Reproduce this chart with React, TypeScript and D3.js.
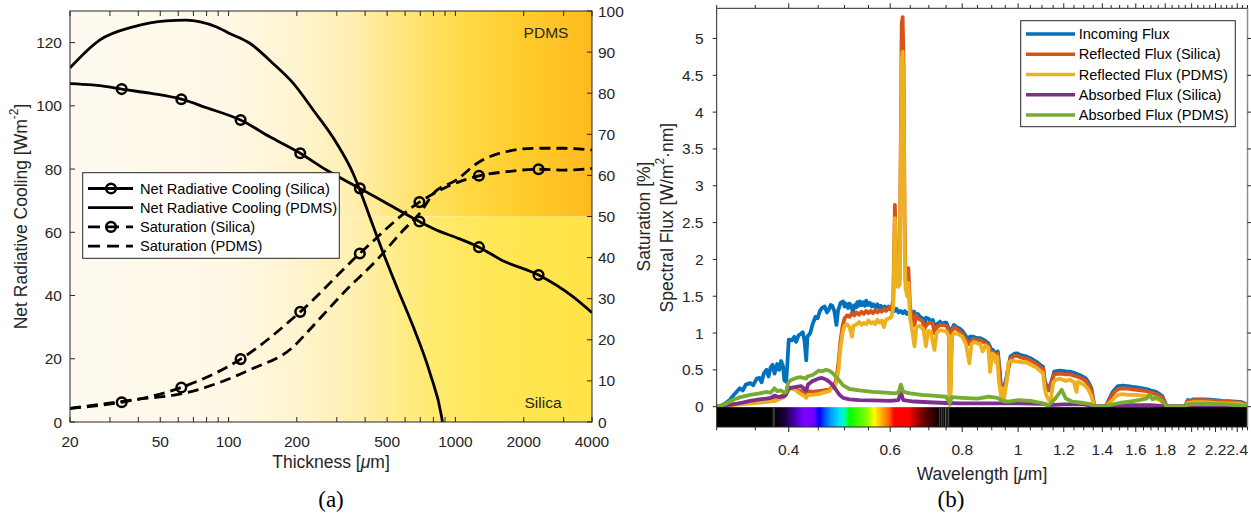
import React from 'react';
import * as d3 from 'd3';

const FONT = '"Liberation Sans", Arial, Helvetica, sans-serif';
const SERIF = '"Liberation Serif", "Times New Roman", serif';
const AXC = '#262626';

// ---------------- Panel (a) data ----------------
const thicknessTicks = [20, 50, 100, 200, 500, 1000, 2000, 4000];
const thicknessTickLabels = ['20', '50', '100', '200', '500', '1000', '2000', '4000'];
const thicknessMinor = [30, 40, 60, 70, 80, 90, 300, 400, 600, 700, 800, 900, 3000];
const coolingTicks = [0, 20, 40, 60, 80, 100, 120];
const saturationTicks = [0, 10, 20, 30, 40, 50, 60, 70, 80, 90, 100];

const nrcSilica: [number, number][] = [
  [20, 107], [25, 106.6], [29, 106.1], [33.8, 105.3], [45, 104], [61.9, 102.1], [80, 99.4],
  [113, 95.5], [152, 90.2], [207, 85], [270, 79.7], [379, 73.9], [497, 69.2], [694, 63.4],
  [852, 60.3], [1012, 58.3], [1270, 55.3], [1600, 51.2], [2325, 46.5], [3305, 39.6], [4000, 34.6],
];
const nrcSilicaMarks: [number, number][] = [
  [33.8, 105.3], [61.9, 102.1], [113, 95.5], [207, 85], [379, 73.9], [694, 63.4], [1270, 55.3], [2325, 46.5],
];
const nrcPdms: [number, number][] = [
  [20, 112], [27, 120.8], [38, 125], [53, 126.9], [65, 127.1], [88, 125], [101, 122.9],
  [124, 119.8], [157, 113.4], [193, 107.1], [236, 98.7], [300, 88.1], [354, 78.6], [379, 73.4],
  [419, 64.9], [481, 53.4], [551, 42.8], [652, 30.1], [773, 15.4], [869, 1.7], [885, -2],
];
const satSilica: [number, number][] = [
  [20, 3.3], [33.8, 4.8], [61.9, 8.4], [113, 15.3], [207, 26.8], [379, 41.0], [694, 53.5],
  [855, 56.4], [1045, 58.5], [1270, 59.9], [1680, 60.9], [2325, 61.5], [3000, 61.3], [4000, 61.7],
];
const satSilicaMarks: [number, number][] = [
  [33.8, 4.8], [61.9, 8.4], [113, 15.3], [207, 26.8], [379, 41.0], [694, 53.5], [1270, 59.9], [2325, 61.5],
];
const satPdms: [number, number][] = [
  [20, 3.3], [38, 5.4], [65, 7.1], [124, 12.7], [193, 18.3], [227, 22.4], [330, 32.1], [450, 39.4],
  [590, 46.7], [697, 50.8], [800, 55.6], [1012, 58.9], [1243, 62.9], [1680, 65.8], [2270, 66.6],
  [3000, 66.6], [4000, 66.2],
];
const legendA = ['Net Radiative Cooling (Silica)', 'Net Radiative Cooling (PDMS)', 'Saturation (Silica)', 'Saturation (PDMS)'];

const bgTopStops: [number, string][] = [
  [20, '#fffaf0'], [100, '#fff8e6'], [200, '#fff4d0'], [350, '#ffefb2'], [500, '#ffe88a'],
  [800, '#ffe05e'], [1200, '#ffd842'], [2000, '#ffcc2c'], [3000, '#ffc224'], [4000, '#ffb91f'],
];
const bgBottomStops: [number, string][] = [
  [20, '#fffaf0'], [100, '#fff8e6'], [200, '#fff4d0'], [350, '#fff0b2'], [500, '#ffed92'],
  [800, '#ffea6e'], [1200, '#ffe85c'], [2000, '#ffe650'], [4000, '#ffe246'],
];

// ---------------- Panel (b) data ----------------
const wavelengthTicks = [0.4, 0.6, 0.8, 1, 1.2, 1.4, 1.6, 1.8, 2, 2.2, 2.4];
const wavelengthTickLabels = ['0.4', '0.6', '0.8', '1', '1.2', '1.4', '1.6', '1.8', '2', '2.2', '2.4'];
const fluxTicks = [0, 0.5, 1, 1.5, 2, 2.5, 3, 3.5, 4, 4.5, 5];
const fluxTickLabels = ['0', '0.5', '1', '1.5', '2', '2.5', '3', '3.5', '4', '4.5', '5'];

const incomingFlux: [number, number][] = [
  [0.300, 0.00], [0.305, 0.01], [0.310, 0.04], [0.316, 0.09], [0.322, 0.17], [0.329, 0.25], [0.333, 0.22],
  [0.337, 0.30], [0.343, 0.32], [0.347, 0.29], [0.352, 0.38], [0.356, 0.39], [0.359, 0.33], [0.362, 0.45],
  [0.366, 0.50], [0.369, 0.41], [0.372, 0.53], [0.375, 0.57], [0.378, 0.45], [0.382, 0.58], [0.385, 0.50],
  [0.388, 0.62], [0.391, 0.55], [0.393, 0.36], [0.396, 0.34], [0.398, 0.60], [0.400, 0.91], [0.405, 0.90],
  [0.409, 0.95], [0.412, 0.88], [0.416, 0.97], [0.420, 0.99], [0.423, 1.01], [0.426, 0.90], [0.429, 0.63],
  [0.431, 0.95], [0.436, 1.00], [0.440, 1.12], [0.445, 1.22], [0.449, 1.20], [0.453, 1.30], [0.457, 1.34],
  [0.462, 1.36], [0.466, 1.28], [0.469, 1.31], [0.473, 1.38], [0.476, 1.37], [0.480, 1.30], [0.484, 1.11],
  [0.487, 1.30], [0.492, 1.41], [0.497, 1.43], [0.500, 1.36], [0.503, 1.40], [0.507, 1.34], [0.510, 1.40],
  [0.514, 1.36], [0.517, 1.28], [0.520, 1.38], [0.524, 1.35], [0.526, 1.42], [0.529, 1.37], [0.531, 1.43],
  [0.535, 1.38], [0.538, 1.42], [0.542, 1.37], [0.545, 1.44], [0.549, 1.38], [0.553, 1.41], [0.557, 1.36],
  [0.561, 1.39], [0.566, 1.35], [0.570, 1.39], [0.574, 1.34], [0.578, 1.37], [0.583, 1.33], [0.587, 1.36],
  [0.590, 1.31], [0.596, 1.36], [0.601, 1.32], [0.606, 1.34], [0.611, 1.30], [0.615, 1.33], [0.620, 1.28],
  [0.626, 1.30], [0.631, 1.27], [0.636, 1.30], [0.641, 1.26], [0.647, 1.28], [0.656, 1.22], [0.660, 1.29],
  [0.665, 1.24], [0.670, 1.26], [0.676, 1.22], [0.683, 1.20], [0.687, 1.10], [0.692, 1.21], [0.700, 1.19],
  [0.705, 1.15], [0.711, 1.18], [0.718, 1.07], [0.723, 1.12], [0.732, 1.155], [0.738, 1.12], [0.745, 1.14],
  [0.751, 1.14], [0.759, 1.05], [0.761, 0.15], [0.764, 0.40], [0.767, 1.05], [0.774, 1.11], [0.782, 1.08],
  [0.790, 1.065], [0.800, 1.03], [0.810, 0.97], [0.820, 0.90], [0.825, 0.95], [0.836, 0.95], [0.850, 0.93],
  [0.860, 0.93], [0.875, 0.90], [0.888, 0.86], [0.898, 0.78], [0.905, 0.77], [0.915, 0.70], [0.922, 0.75],
  [0.930, 0.45], [0.935, 0.20], [0.945, 0.25], [0.955, 0.40], [0.962, 0.55], [0.970, 0.68], [0.985, 0.72],
  [0.995, 0.725], [1.010, 0.70], [1.035, 0.68], [1.055, 0.65], [1.076, 0.61], [1.095, 0.56], [1.105, 0.54],
  [1.112, 0.36], [1.120, 0.28], [1.130, 0.25], [1.140, 0.32], [1.150, 0.42], [1.155, 0.475], [1.180, 0.49],
  [1.210, 0.48], [1.230, 0.475], [1.250, 0.46], [1.277, 0.43], [1.300, 0.40], [1.310, 0.385], [1.325, 0.33],
  [1.340, 0.25], [1.350, 0.10], [1.355, 0.00], [1.420, 0.00], [1.440, 0.11], [1.460, 0.20], [1.470, 0.23],
  [1.490, 0.28], [1.520, 0.285], [1.550, 0.28], [1.580, 0.27], [1.620, 0.26], [1.670, 0.24], [1.700, 0.22],
  [1.735, 0.20], [1.760, 0.17], [1.780, 0.14], [1.800, 0.05], [1.810, 0.00], [1.950, 0.00], [1.960, 0.05],
  [1.970, 0.09], [1.990, 0.08], [2.010, 0.10], [2.050, 0.10], [2.100, 0.10], [2.150, 0.095], [2.200, 0.09],
  [2.260, 0.08], [2.320, 0.075], [2.380, 0.07], [2.430, 0.065], [2.470, 0.045], [2.500, 0.02],
];

const reflectedSilica: [number, number][] = [
  [0.300, 0.00], [0.310, 0.015], [0.320, 0.03], [0.330, 0.045], [0.340, 0.055], [0.350, 0.065], [0.360, 0.08],
  [0.370, 0.09], [0.375, 0.11], [0.380, 0.10], [0.385, 0.13], [0.390, 0.15], [0.395, 0.17], [0.399, 0.22],
  [0.402, 0.26], [0.410, 0.25], [0.415, 0.22], [0.420, 0.21], [0.425, 0.20], [0.429, 0.17], [0.432, 0.21],
  [0.440, 0.20], [0.450, 0.21], [0.460, 0.22], [0.470, 0.23], [0.475, 0.26], [0.480, 0.30], [0.484, 0.38],
  [0.488, 0.60], [0.492, 0.90], [0.496, 1.10], [0.500, 1.20], [0.505, 1.24], [0.510, 1.22], [0.515, 1.27],
  [0.520, 1.24], [0.525, 1.28], [0.530, 1.25], [0.535, 1.29], [0.540, 1.26], [0.545, 1.30], [0.550, 1.27],
  [0.555, 1.30], [0.560, 1.27], [0.565, 1.31], [0.570, 1.28], [0.575, 1.31], [0.580, 1.29], [0.585, 1.33],
  [0.590, 1.30], [0.598, 1.35], [0.603, 1.33], [0.6073, 1.45], [0.6113, 2.74], [0.6144, 2.0], [0.6184, 1.63],
  [0.6227, 1.70], [0.6257, 3.5], [0.6281, 5.2], [0.6305, 5.29], [0.6330, 4.6], [0.6355, 2.5], [0.638, 1.7],
  [0.642, 1.6], [0.6451, 1.88], [0.6495, 1.35], [0.656, 1.20], [0.661, 1.10], [0.665, 1.24], [0.670, 1.20],
  [0.683, 1.16], [0.687, 1.05], [0.692, 1.10], [0.700, 1.14], [0.711, 1.13], [0.716, 1.0], [0.723, 1.08],
  [0.732, 1.11], [0.751, 1.10], [0.759, 1.02], [0.761, 0.10], [0.764, 0.35], [0.767, 1.02], [0.774, 1.08],
  [0.790, 1.03], [0.800, 0.99], [0.810, 0.93], [0.823, 0.85], [0.836, 0.92], [0.850, 0.90], [0.860, 0.90],
  [0.875, 0.87], [0.888, 0.83], [0.898, 0.74], [0.905, 0.74], [0.915, 0.67], [0.922, 0.72], [0.930, 0.42],
  [0.935, 0.18], [0.945, 0.22], [0.955, 0.37], [0.962, 0.52], [0.970, 0.65], [0.985, 0.69], [0.995, 0.69],
  [1.010, 0.67], [1.035, 0.65], [1.055, 0.62], [1.076, 0.58], [1.095, 0.53], [1.105, 0.51], [1.112, 0.33],
  [1.120, 0.25], [1.130, 0.22], [1.140, 0.29], [1.150, 0.39], [1.155, 0.44], [1.180, 0.45], [1.210, 0.44],
  [1.230, 0.44], [1.250, 0.42], [1.277, 0.40], [1.300, 0.37], [1.310, 0.35], [1.325, 0.30], [1.340, 0.22],
  [1.350, 0.08], [1.355, 0.00], [1.420, 0.00], [1.440, 0.09], [1.460, 0.17], [1.470, 0.20], [1.490, 0.24],
  [1.520, 0.25], [1.550, 0.245], [1.580, 0.235], [1.620, 0.225], [1.670, 0.21], [1.700, 0.19], [1.735, 0.17],
  [1.760, 0.145], [1.780, 0.12], [1.800, 0.04], [1.810, 0.00], [1.950, 0.00], [1.960, 0.04], [1.970, 0.08],
  [1.990, 0.07], [2.010, 0.09], [2.050, 0.09], [2.100, 0.09], [2.150, 0.085], [2.200, 0.08], [2.260, 0.07],
  [2.320, 0.065], [2.380, 0.06], [2.430, 0.055], [2.470, 0.04], [2.500, 0.015],
];

const reflectedPdms: [number, number][] = [
  [0.300, 0.00], [0.310, 0.01], [0.320, 0.02], [0.330, 0.03], [0.340, 0.04], [0.350, 0.05], [0.360, 0.06],
  [0.370, 0.07], [0.380, 0.08], [0.390, 0.12], [0.395, 0.15], [0.399, 0.22], [0.403, 0.25], [0.410, 0.23],
  [0.415, 0.20], [0.420, 0.17], [0.425, 0.15], [0.429, 0.12], [0.432, 0.16], [0.440, 0.16], [0.450, 0.17],
  [0.460, 0.19], [0.470, 0.21], [0.475, 0.25], [0.480, 0.27], [0.484, 0.33], [0.488, 0.50], [0.492, 0.80],
  [0.496, 1.00], [0.500, 1.10], [0.505, 1.12], [0.510, 1.08], [0.515, 0.95], [0.518, 1.10], [0.525, 1.12],
  [0.530, 1.15], [0.535, 1.11], [0.540, 1.14], [0.545, 1.12], [0.550, 1.17], [0.555, 1.13], [0.560, 1.15],
  [0.565, 1.12], [0.570, 1.18], [0.575, 1.14], [0.580, 1.17], [0.585, 1.08], [0.590, 1.18], [0.598, 1.20],
  [0.603, 1.22], [0.6073, 1.35], [0.6113, 2.56], [0.6144, 1.9], [0.6184, 1.63], [0.6227, 1.65], [0.6257, 3.2],
  [0.6281, 4.7], [0.6305, 4.82], [0.6330, 4.2], [0.6355, 2.2], [0.638, 1.6], [0.642, 1.5], [0.6451, 1.68],
  [0.6495, 1.2], [0.653, 1.10], [0.661, 0.82], [0.666, 1.08], [0.675, 1.10], [0.685, 1.05], [0.692, 0.82],
  [0.698, 1.03], [0.705, 1.02], [0.716, 0.77], [0.722, 1.0], [0.732, 1.04], [0.745, 1.03], [0.751, 1.02],
  [0.759, 0.95], [0.761, 0.02], [0.764, 0.20], [0.767, 0.95], [0.774, 1.0], [0.790, 0.98], [0.800, 0.95],
  [0.812, 0.85], [0.823, 0.59], [0.830, 0.85], [0.840, 0.88], [0.850, 0.86], [0.860, 0.85], [0.868, 0.75],
  [0.878, 0.83], [0.888, 0.80], [0.894, 0.47], [0.902, 0.72], [0.910, 0.70], [0.915, 0.60], [0.920, 0.68],
  [0.926, 0.35], [0.935, 0.12], [0.940, 0.25], [0.945, 0.10], [0.950, 0.22], [0.956, 0.35], [0.962, 0.60],
  [0.970, 0.62], [0.985, 0.62], [1.000, 0.61], [1.035, 0.60], [1.076, 0.53], [1.105, 0.45], [1.112, 0.25],
  [1.120, 0.15], [1.130, 0.09], [1.140, 0.10], [1.150, 0.32], [1.160, 0.36], [1.180, 0.38], [1.210, 0.35],
  [1.230, 0.37], [1.250, 0.33], [1.263, 0.20], [1.270, 0.34], [1.300, 0.30], [1.320, 0.25], [1.340, 0.15],
  [1.350, 0.05], [1.355, 0.00], [1.420, 0.00], [1.440, 0.05], [1.470, 0.12], [1.490, 0.16], [1.520, 0.17],
  [1.550, 0.16], [1.600, 0.16], [1.650, 0.15], [1.700, 0.13], [1.750, 0.10], [1.780, 0.06], [1.810, 0.00],
  [1.950, 0.00], [1.970, 0.05], [2.010, 0.06], [2.100, 0.06], [2.200, 0.05], [2.300, 0.045], [2.430, 0.04],
  [2.500, 0.01],
];

const absorbedSilica: [number, number][] = [
  [0.300, 0.00], [0.320, 0.03], [0.330, 0.05], [0.343, 0.08], [0.356, 0.10], [0.366, 0.11], [0.372, 0.12],
  [0.378, 0.15], [0.385, 0.13], [0.393, 0.14], [0.396, 0.17], [0.399, 0.24], [0.405, 0.26], [0.412, 0.27],
  [0.420, 0.28], [0.429, 0.22], [0.432, 0.30], [0.440, 0.35], [0.450, 0.38], [0.457, 0.39], [0.464, 0.37],
  [0.470, 0.34], [0.476, 0.30], [0.484, 0.22], [0.490, 0.16], [0.497, 0.12], [0.510, 0.10], [0.530, 0.09],
  [0.560, 0.085], [0.600, 0.08], [0.620, 0.09], [0.626, 0.20], [0.632, 0.09], [0.660, 0.07], [0.700, 0.06],
  [0.750, 0.05], [0.800, 0.045], [0.900, 0.045], [1.000, 0.045], [1.100, 0.04], [1.130, 0.02], [1.200, 0.03],
  [1.300, 0.03], [1.355, 0.005], [1.420, 0.005], [1.500, 0.02], [1.700, 0.02], [1.810, 0.005], [1.950, 0.005],
  [2.000, 0.015], [2.500, 0.01],
];

const absorbedPdms: [number, number][] = [
  [0.300, 0.00], [0.310, 0.03], [0.316, 0.07], [0.322, 0.10], [0.330, 0.13], [0.343, 0.16], [0.356, 0.18],
  [0.366, 0.20], [0.372, 0.19], [0.378, 0.25], [0.382, 0.21], [0.388, 0.22], [0.393, 0.19], [0.396, 0.20],
  [0.399, 0.32], [0.403, 0.36], [0.412, 0.39], [0.420, 0.40], [0.429, 0.38], [0.431, 0.41], [0.440, 0.43],
  [0.451, 0.49], [0.457, 0.48], [0.464, 0.50], [0.470, 0.49], [0.476, 0.46], [0.484, 0.40], [0.489, 0.36],
  [0.497, 0.29], [0.510, 0.24], [0.530, 0.22], [0.560, 0.20], [0.590, 0.19], [0.610, 0.18], [0.620, 0.19],
  [0.626, 0.30], [0.632, 0.20], [0.650, 0.18], [0.680, 0.16], [0.710, 0.15], [0.750, 0.135], [0.761, 0.05],
  [0.767, 0.13], [0.800, 0.12], [0.850, 0.11], [0.890, 0.135], [0.920, 0.12], [0.940, 0.08], [0.960, 0.07],
  [1.000, 0.09], [1.050, 0.08], [1.100, 0.05], [1.130, 0.02], [1.160, 0.11], [1.190, 0.23], [1.210, 0.11],
  [1.240, 0.07], [1.300, 0.05], [1.340, 0.03], [1.355, 0.00], [1.420, 0.00], [1.440, 0.02], [1.500, 0.05],
  [1.560, 0.07], [1.620, 0.09], [1.670, 0.11], [1.690, 0.16], [1.710, 0.10], [1.740, 0.13], [1.770, 0.09],
  [1.800, 0.03], [1.810, 0.00], [1.950, 0.00], [1.970, 0.03], [2.100, 0.04], [2.300, 0.03], [2.500, 0.01],
];

const seriesNamesB = ['Incoming Flux', 'Reflected Flux (Silica)', 'Reflected Flux (PDMS)', 'Absorbed Flux (Silica)', 'Absorbed Flux (PDMS)'];
const seriesColorsB = ['#0072BD', '#D95319', '#EDB120', '#7E2F8E', '#77AC30'];

const spectrumStops: [number, string][] = [
  [0.300, '#000000'], [0.377, '#000000'], [0.395, '#1c0040'], [0.412, '#5000c0'], [0.425, '#7f00ff'],
  [0.442, '#7000ff'], [0.452, '#0000ff'], [0.464, '#0060ff'], [0.474, '#00a0ff'], [0.489, '#00e0ff'],
  [0.500, '#00ffb0'], [0.510, '#00ff00'], [0.545, '#80ff00'], [0.563, '#ffff00'], [0.583, '#ffa000'],
  [0.597, '#ff6000'], [0.610, '#ff0000'], [0.647, '#ff0000'], [0.666, '#b00000'], [0.683, '#700000'],
  [0.711, '#300000'], [0.729, '#100000'], [0.740, '#000000'], [2.500, '#000000'],
];
const spectrumGrayLines: [number, string][] = [
  [0.376, '#555555'], [0.378, '#333333'], [0.731, '#444444'], [0.737, '#555555'], [0.742, '#333333'],
  [0.748, '#666666'], [0.753, '#3a3a3a'], [0.758, '#555555'],
];

// ---------------- Layout ----------------
const A = { l: 70, r: 592, t: 11, b: 422 };
const B = { l: 716.7, r: 1247.5, t: 8.3, b: 427 };

export default function App() {
  const xL = d3.scaleLog().domain([20, 4000]).range([A.l, A.r]);
  const yL = d3.scaleLinear().domain([0, 130]).range([A.b, A.t]);
  const yR = d3.scaleLinear().domain([0, 100]).range([A.b, A.t]);

  const xS = d3.scaleLog().domain([0.3, 2.5]).range([B.l, B.r]);
  const yS = d3.scaleLinear().domain([-0.276, 5.41]).range([B.b, B.t]);

  const lineL = d3.line<[number, number]>().x(d => xL(d[0])).y(d => yL(d[1])).curve(d3.curveMonotoneX);
  const lineR = d3.line<[number, number]>().x(d => xL(d[0])).y(d => yR(d[1])).curve(d3.curveMonotoneX);
  const lineS = d3.line<[number, number]>().x(d => xS(d[0])).y(d => yS(d[1]));

  const split = yR(50);
  const wA = A.r - A.l;
  const wB = B.r - B.l;
  const minorS = d3.range(0.3, 2.5001, 0.05).filter(v => !wavelengthTicks.some(t => Math.abs(t - v) < 1e-6));

  const tickStyle = { fontFamily: FONT, fontSize: 15.5, fill: AXC };
  const seriesB = [incomingFlux, reflectedSilica, reflectedPdms, absorbedSilica, absorbedPdms];

  const legRowsA = [188.5, 207.7, 226.9, 246.1];
  const legRowsB = [34, 54.3, 74.5, 94.8, 115];

  return (
    <svg width={1251} height={518} style={{ position: 'absolute', left: 0, top: 0, background: '#fff' }}>
      <defs>
        <linearGradient id="bgTop" gradientUnits="userSpaceOnUse" x1={A.l} x2={A.r} y1={0} y2={0}>
          {bgTopStops.map(([t, c], i) => <stop key={i} offset={(xL(t) - A.l) / wA} stopColor={c} />)}
        </linearGradient>
        <linearGradient id="bgBot" gradientUnits="userSpaceOnUse" x1={A.l} x2={A.r} y1={0} y2={0}>
          {bgBottomStops.map(([t, c], i) => <stop key={i} offset={(xL(t) - A.l) / wA} stopColor={c} />)}
        </linearGradient>
        <linearGradient id="spec" gradientUnits="userSpaceOnUse" x1={B.l} x2={B.r} y1={0} y2={0}>
          {spectrumStops.map(([w, c], i) => <stop key={i} offset={(xS(w) - B.l) / wB} stopColor={c} />)}
        </linearGradient>
        <clipPath id="clipA"><rect x={A.l} y={A.t} width={wA} height={A.b - A.t} /></clipPath>
        <clipPath id="clipB"><rect x={B.l} y={B.t} width={wB} height={B.b - B.t} /></clipPath>
      </defs>

      {/* ================= Panel (a) ================= */}
      <rect x={A.l} y={A.t} width={wA} height={split - A.t} fill="url(#bgTop)" />
      <rect x={A.l} y={split} width={wA} height={A.b - split} fill="url(#bgBot)" />

      <g clipPath="url(#clipA)" fill="none" stroke="#000" strokeWidth={2.8}>
        <path d={lineL(nrcSilica) || ''} />
        <path d={lineL(nrcPdms) || ''} />
        <path d={lineR(satSilica) || ''} strokeDasharray="11,6" />
        <path d={lineR(satPdms) || ''} strokeDasharray="11,6" />
        {nrcSilicaMarks.map((d, i) => <circle key={'m1' + i} cx={xL(d[0])} cy={yL(d[1])} r={4.8} strokeWidth={2.5} />)}
        {satSilicaMarks.map((d, i) => <circle key={'m2' + i} cx={xL(d[0])} cy={yR(d[1])} r={4.8} strokeWidth={2.5} />)}
      </g>

      <text x={546} y={32} style={{ fontFamily: FONT, fontSize: 15.5, fill: AXC }} textAnchor="middle" dominantBaseline="central">PDMS</text>
      <text x={543} y={402.7} style={{ fontFamily: FONT, fontSize: 15.5, fill: AXC }} textAnchor="middle" dominantBaseline="central">Silica</text>

      {/* axes box */}
      <rect x={A.l} y={A.t} width={wA} height={A.b - A.t} fill="none" stroke={AXC} strokeWidth={1} />
      {[...thicknessTicks, ...thicknessMinor].map((t, i) => (
        <g key={'xt' + i} stroke={AXC} strokeWidth={1}>
          <line x1={xL(t)} x2={xL(t)} y1={A.b} y2={A.b - 5} />
          <line x1={xL(t)} x2={xL(t)} y1={A.t} y2={A.t + 5} />
        </g>
      ))}
      {thicknessTicks.map((t, i) => (
        <text key={'xl' + i} x={xL(t)} y={446.5} textAnchor="middle" style={tickStyle}>{thicknessTickLabels[i]}</text>
      ))}
      {coolingTicks.map((v, i) => (
        <g key={'yl' + i}>
          <line x1={A.l} x2={A.l + 5} y1={yL(v)} y2={yL(v)} stroke={AXC} />
          <text x={62} y={yL(v)} textAnchor="end" dominantBaseline="central" style={tickStyle}>{v}</text>
        </g>
      ))}
      {saturationTicks.map((v, i) => (
        <g key={'yr' + i}>
          <line x1={A.r} x2={A.r - 5} y1={yR(v)} y2={yR(v)} stroke={AXC} />
          <text x={598} y={yR(v)} textAnchor="start" dominantBaseline="central" style={tickStyle}>{v}</text>
        </g>
      ))}

      <text x={331} y={468} textAnchor="middle" style={{ fontFamily: FONT, fontSize: 17.5, fill: AXC }}>
        Thickness [<tspan fontStyle="italic">μ</tspan>m]
      </text>
      <text transform={`translate(21, ${(A.t + A.b) / 2}) rotate(-90)`} textAnchor="middle" dominantBaseline="central"
        style={{ fontFamily: FONT, fontSize: 17.5, fill: AXC }}>
        Net Radiative Cooling [Wm<tspan dy={-7} fontSize={12}>-2</tspan><tspan dy={7}>]</tspan>
      </text>
      <text transform={`translate(644, ${(A.t + A.b) / 2}) rotate(-90)`} textAnchor="middle" dominantBaseline="central"
        style={{ fontFamily: FONT, fontSize: 17.5, fill: AXC }}>
        Saturation [%]
      </text>

      {/* legend (a) */}
      <rect x={82.7} y={172.7} width={256.6} height={85.6} fill="#fff" stroke={AXC} strokeWidth={1} />
      {legendA.map((name, i) => (
        <g key={'la' + i}>
          <line x1={88} x2={133} y1={legRowsA[i]} y2={legRowsA[i]} stroke="#000" strokeWidth={2.8}
            strokeDasharray={i >= 2 ? '12,7' : undefined} />
          {(i === 0 || i === 2) && <circle cx={111} cy={legRowsA[i]} r={4.8} fill="none" stroke="#000" strokeWidth={2.5} />}
          <text x={140} y={legRowsA[i]} dominantBaseline="central" style={{ fontFamily: FONT, fontSize: 14.6, fill: '#000' }}>{name}</text>
        </g>
      ))}

      <text x={331} y={507} textAnchor="middle" style={{ fontFamily: SERIF, fontSize: 23, fill: '#000' }}>(a)</text>

      {/* ================= Panel (b) ================= */}
      <g clipPath="url(#clipB)" fill="none" strokeWidth={3.8} strokeLinejoin="round">
        {seriesB.map((s, i) => <path key={'sb' + i} d={lineS(s) || ''} stroke={seriesColorsB[i]} />)}
      </g>
      <rect x={B.l} y={yS(0) + 0.5} width={wB} height={B.b - yS(0) - 0.5} fill="url(#spec)" />
      {spectrumGrayLines.map(([w, c], i) => (
        <line key={'gl' + i} x1={xS(w)} x2={xS(w)} y1={yS(0) + 0.5} y2={B.b} stroke={c} strokeWidth={1} />
      ))}

      {/* axes lines */}
      <line x1={B.l} x2={B.l} y1={B.t} y2={B.b} stroke={AXC} />
      <line x1={B.l} x2={B.r} y1={B.t} y2={B.t} stroke={AXC} />
      <line x1={B.l} x2={B.r} y1={B.b} y2={B.b} stroke={AXC} />
      <line x1={B.r} x2={B.r} y1={B.t} y2={B.b} stroke="#8c8c8c" strokeWidth={1.5} />
      {wavelengthTicks.map((w, i) => (
        <g key={'wt' + i} stroke={AXC}>
          <line x1={xS(w)} x2={xS(w)} y1={B.b} y2={B.b + 5} />
          <line x1={xS(w)} x2={xS(w)} y1={B.t} y2={B.t - 5} />
        </g>
      ))}
      {minorS.map((w, i) => (
        <g key={'wm' + i} stroke={AXC}>
          <line x1={xS(w)} x2={xS(w)} y1={B.b} y2={B.b + 3.3} />
          <line x1={xS(w)} x2={xS(w)} y1={B.t} y2={B.t - 3.3} />
        </g>
      ))}
      {wavelengthTicks.map((w, i) => (
        <text key={'wl' + i} x={xS(w)} y={455} textAnchor="middle" style={tickStyle}>{wavelengthTickLabels[i]}</text>
      ))}
      {fluxTicks.map((v, i) => (
        <g key={'ft' + i}>
          <line x1={B.l} x2={B.l - 4} y1={yS(v)} y2={yS(v)} stroke={AXC} />
          <line x1={B.r} x2={B.r + 4} y1={yS(v)} y2={yS(v)} stroke={AXC} />
          <text x={703.5} y={yS(v)} textAnchor="end" dominantBaseline="central" style={tickStyle}>{fluxTickLabels[i]}</text>
        </g>
      ))}

      <text x={982} y={480} textAnchor="middle" style={{ fontFamily: FONT, fontSize: 17.5, fill: AXC }}>
        Wavelength [<tspan fontStyle="italic">μ</tspan>m]
      </text>
      <text transform={`translate(667, ${(B.t + B.b) / 2}) rotate(-90)`} textAnchor="middle" dominantBaseline="central"
        style={{ fontFamily: FONT, fontSize: 17.5, fill: AXC }}>
        Spectral Flux [W/m<tspan dy={-7} fontSize={12}>2</tspan><tspan dy={7}>·nm]</tspan>
      </text>

      {/* legend (b) */}
      <rect x={1020.7} y={20.7} width={214.6} height={106} fill="#fff" stroke={AXC} strokeWidth={1} />
      {seriesNamesB.map((name, i) => (
        <g key={'lb' + i}>
          <line x1={1026} x2={1075} y1={legRowsB[i]} y2={legRowsB[i]} stroke={seriesColorsB[i]} strokeWidth={3.6} />
          <text x={1078.7} y={legRowsB[i]} dominantBaseline="central" style={{ fontFamily: FONT, fontSize: 14.6, fill: '#000' }}>{name}</text>
        </g>
      ))}

      <text x={951} y={507} textAnchor="middle" style={{ fontFamily: SERIF, fontSize: 23, fill: '#000' }}>(b)</text>
    </svg>
  );
}
